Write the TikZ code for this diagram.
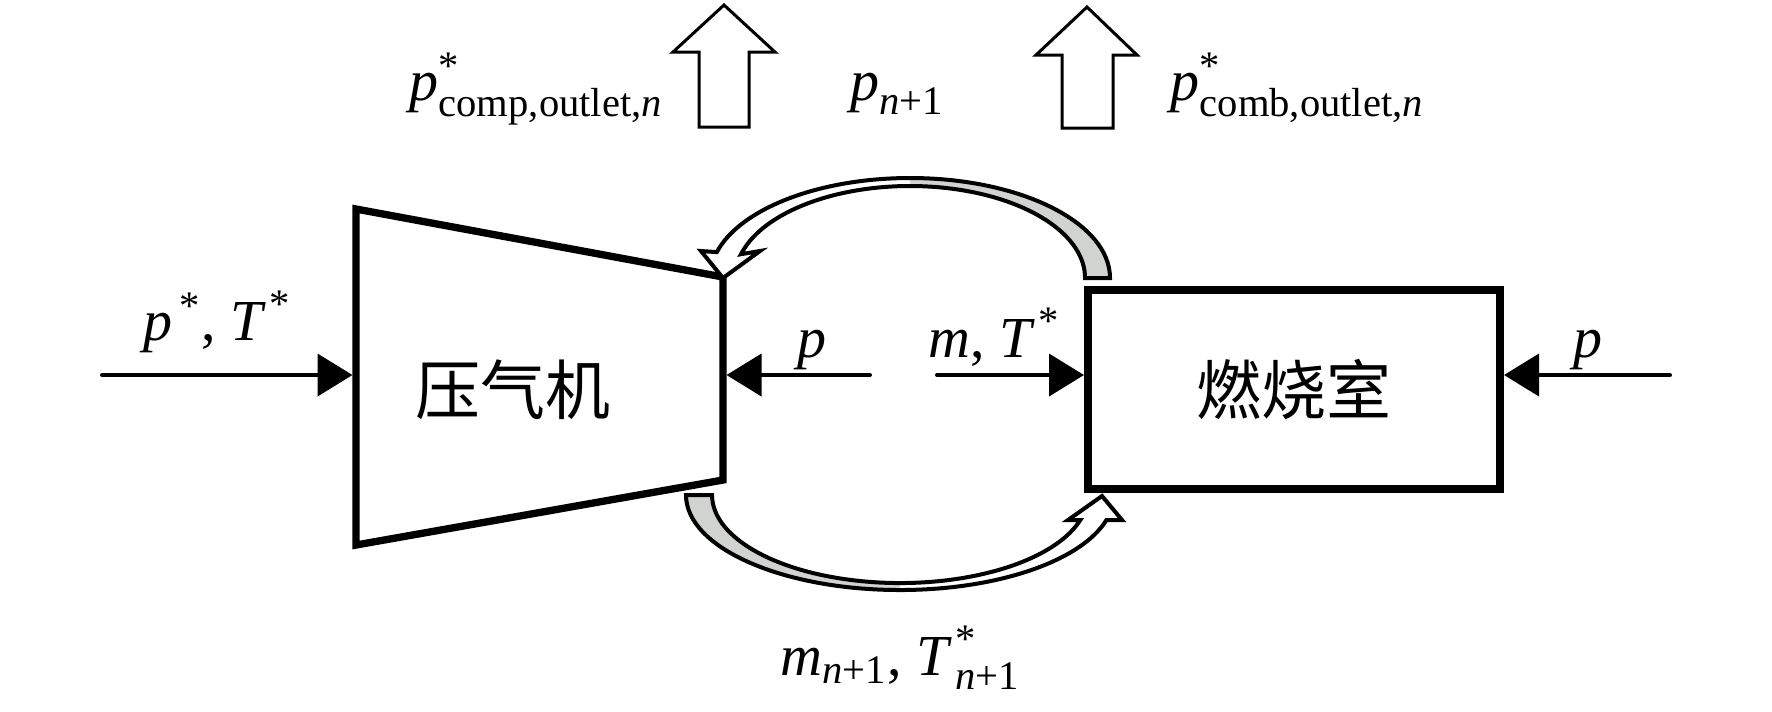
\documentclass[tikz,border=0pt]{standalone}
\usepackage{fontspec}
\setmainfont{Liberation Serif}
\newfontfamily\cjk{Noto Sans CJK SC}
\usepackage{amsmath}
\usetikzlibrary{arrows.meta}
\newcommand\myit[1]{\text{\itshape #1}}
\definecolor{curvegray}{RGB}{208,211,207}
\begin{document}
\begin{tikzpicture}[x=0.3pt,y=-0.3pt,
  boxline/.style={line width=2.2pt, line join=miter},
  flow/.style={line width=1.2pt, line cap=round, -{Triangle[length=10.5pt,width=12.6pt]}},
  blockarrow/.style={draw, line width=0.9pt, fill=white, line join=miter},
  bandoutline/.style={draw, line width=1.2pt, line join=miter},
  lbl/.style={inner sep=0pt, anchor=base west, font=\fontsize{17.4}{20}\selectfont},
  cjklbl/.style={inner sep=0pt, font=\cjk\fontsize{19.5}{22}\selectfont}]
\useasboundingbox (0,0) rectangle (1772,711);

% compressor
\coordinate (c1) at (356,209);
\coordinate (c2) at (723,277);
\coordinate (c3) at (723,480);
\coordinate (c4) at (356,545);
\draw[boxline] (c1) -- (c2) -- (c3) -- (c4) -- cycle;
\node[cjklbl] (comp) at (513,390) {压气机};
\coordinate (compW) at (352.5,375);
\coordinate (compE) at (726.5,375);

% combustor
\node[draw, line width=2.4pt, minimum width=123.6pt, minimum height=59.7pt,
      inner sep=0pt, cjklbl] (comb) at (1294,389.5) {燃烧室};

% straight arrows
\coordinate (inL) at (102,375);
\coordinate (midL) at (870,375);
\coordinate (midR) at (937,375);
\coordinate (inR) at (1670,375);
\draw[flow] (inL) -- (compW);
\draw[flow] (midL) -- (compE);
\draw[flow] (midR) -- (midR -| comb.west);
\draw[flow] (inR) -- (inR -| comb.east);

% labels
\node[lbl] (l1) at (409,100) {$\myit{p}^{\text{*}}_{\text{comp,outlet,\itshape n}}$};
\node[lbl] (l2) at (850,100) {$\myit{p}_{\text{\itshape n\upshape +1}}$};
\node[lbl] (l3) at (1170,100) {$\myit{p}^{\text{*}}_{\text{comb,outlet,\itshape n}}$};
\node[lbl] (l4) at (143,340) {$\myit{p}^{\,\text{*}}\text{, }\myit{T}^{\,\text{*}}$};
\node[lbl] (l5) at (797,357) {$\myit{p}$};
\node[lbl] (l6) at (928,357) {$\myit{m}\text{, }\myit{T}^{\,\text{*}}$};
\node[lbl] (l7) at (1573,357) {$\myit{p}$};
\node[lbl] (l8) at (780,675) {$\myit{m}_{\text{\itshape n\upshape +1}}\text{, }\myit{T}^{\,\text{*}}_{\,\text{\itshape n\upshape +1}}$};

% up block arrows
\path[blockarrow] (699,127) -- (699,52) -- (673,52) -- (724,5) -- (775,52) -- (749,52) -- (749,127) -- cycle;
\path[blockarrow] (1062,128) -- (1062,55) -- (1036,55) -- (1087,7) -- (1137,55) -- (1113,55) -- (1113,128) -- cycle;

% top curved arrow (combustor -> compressor)
\fill[curvegray] (1110,278) arc[start angle=0,end angle=-90,x radius=200,y radius=100]
  -- (910,186) arc[start angle=-90,end angle=0,x radius=175,y radius=92] -- cycle;
\fill[white] (910,178) arc[start angle=-90,end angle=-165,x radius=200,y radius=100]
  -- (701,251) -- (723,278) -- (760,251) -- (741.0,254.2)
  arc[start angle=-165,end angle=-90,x radius=175,y radius=92] -- cycle;
\path[bandoutline] (1110,278) arc[start angle=0,end angle=-165,x radius=200,y radius=100]
  -- (701,251) -- (723,278) -- (760,251) -- (741.0,254.2)
  arc[start angle=-165,end angle=0,x radius=175,y radius=92] -- cycle;

% bottom curved arrow (compressor -> combustor)
\fill[curvegray] (686,495) arc[start angle=180,end angle=90,x radius=214,y radius=95]
  -- (900,583) arc[start angle=90,end angle=180,x radius=188,y radius=88] -- cycle;
\fill[white] (900,590) arc[start angle=90,end angle=15.3,x radius=214,y radius=95]
  -- (1122,520) -- (1102,496) -- (1068,520) -- (1080.3,520.0)
  arc[start angle=16.5,end angle=90,x radius=188,y radius=88] -- cycle;
\path[bandoutline] (686,495) arc[start angle=180,end angle=15.3,x radius=214,y radius=95]
  -- (1122,520) -- (1102,496) -- (1068,520) -- (1080.3,520.0)
  arc[start angle=16.5,end angle=180,x radius=188,y radius=88] -- cycle;
\end{tikzpicture}
\end{document}
